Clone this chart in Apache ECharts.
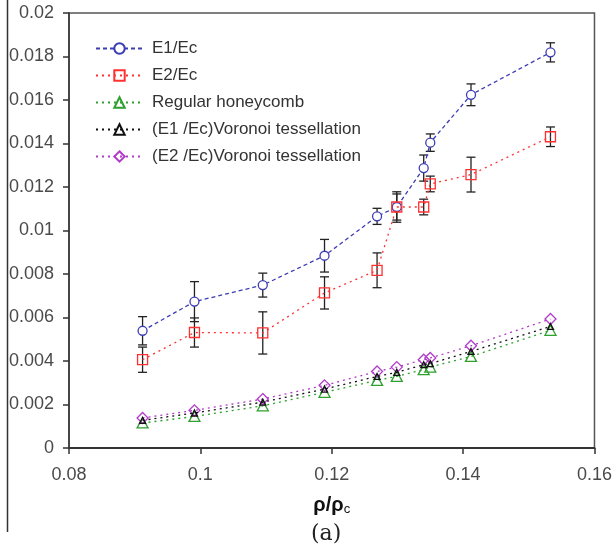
<!DOCTYPE html>
<html>
<head>
<meta charset="utf-8">
<script src="https://cdn.jsdelivr.net/npm/echarts@6/dist/echarts.min.js"></script>
<style>
html,body{margin:0;padding:0;background:#fff;}
#chart{width:615px;height:554px;}
</style>
</head>
<body>
<div id="chart"></div>
<script>
// ---- data ----
const xVals  = [0.0912, 0.0991, 0.1095, 0.1189, 0.1269, 0.1299, 0.1340, 0.1350, 0.1412, 0.1533];
const e1     = [0.00539, 0.00673, 0.00749, 0.00884, 0.01065, 0.01108, 0.01287, 0.01404, 0.01624, 0.01819];
const e1Err  = [0.00065, 0.00092, 0.00055, 0.00075, 0.00037, 0.0006, 0.0006, 0.0004, 0.0005, 0.00044];
const e2     = [0.00406, 0.00531, 0.00529, 0.00713, 0.00817, 0.01108, 0.01108, 0.01214, 0.01257, 0.01431];
const e2Err  = [0.00058, 0.00067, 0.00097, 0.00074, 0.0008, 0.0007, 0.00036, 0.00036, 0.0008, 0.00045];
const regular = [0.00115, 0.00145, 0.00194, 0.00256, 0.00311, 0.00329, 0.0036, 0.00372, 0.00421, 0.00541];
const vorE1   = [0.00127, 0.00161, 0.00211, 0.00271, 0.00329, 0.00348, 0.00383, 0.00388, 0.00444, 0.00559];
const vorE2   = [0.00138, 0.00173, 0.00225, 0.00288, 0.00352, 0.00372, 0.00406, 0.00414, 0.0047, 0.00593];
const seriesNames = ['E1/Ec', 'E2/Ec', 'Regular honeycomb', '(E1 /Ec)Voronoi tessellation', '(E2 /Ec)Voronoi tessellation'];
const xTicks = {min: 0.08, max: 0.16, interval: 0.02};
const yTicks = {min: 0, max: 0.02, interval: 0.002};

const pairs = (ys) => xVals.map((x, i) => [x, ys[i]]);
const errData = (ys, errs) => xVals.map((x, i) => [x, ys[i] - errs[i], ys[i] + errs[i]]);

const FONT = 'Liberation Sans, Arial, sans-serif';
const BLUE = '#3c3cb4', RED = '#ff3030', GREEN = '#2ea02e', BLACK = '#111111', PURPLE = '#b03cc8';

function errRender(params, api) {
  const x = api.value(0);
  const lo = api.coord([x, api.value(1)]);
  const hi = api.coord([x, api.value(2)]);
  const w = 4.5;
  const st = {stroke: '#222', lineWidth: 1.3};
  return {
    type: 'group',
    children: [
      {type: 'line', shape: {x1: lo[0], y1: lo[1], x2: hi[0], y2: hi[1]}, style: st},
      {type: 'line', shape: {x1: lo[0] - w, y1: lo[1], x2: lo[0] + w, y2: lo[1]}, style: st},
      {type: 'line', shape: {x1: hi[0] - w, y1: hi[1], x2: hi[0] + w, y2: hi[1]}, style: st}
    ]
  };
}

const chart = echarts.init(document.getElementById('chart'));
const fmt = v => String(+(+v).toFixed(4));

chart.setOption({
  animation: false,
  backgroundColor: '#fff',
  textStyle: {fontFamily: FONT},
  grid: {left: 69, right: 19, top: 13, bottom: 106, show: true, borderColor: '#555', borderWidth: 1.5},
  legend: {
    data: seriesNames,
    orient: 'vertical',
    left: 95, top: 40,
    padding: 0,
    itemWidth: 47, itemHeight: 13, itemGap: 10,
    textStyle: {fontFamily: FONT, fontSize: 17, color: '#333', padding: [0, 0, 0, 4]}
  },
  xAxis: {
    type: 'value', min: xTicks.min, max: xTicks.max, interval: xTicks.interval,
    splitLine: {show: false},
    axisLine: {lineStyle: {color: '#333', width: 2}},
    axisTick: {length: 6, lineStyle: {color: '#333', width: 1.5}},
    axisLabel: {margin: 18, fontSize: 18, color: '#4a4a4a', fontFamily: FONT, formatter: fmt},
    name: '{b|ρ/ρ}{s|c}',
    nameLocation: 'middle', nameGap: 46,
    nameTextStyle: {
      rich: {
        b: {fontFamily: FONT, fontWeight: 'bold', fontSize: 20, color: '#111', lineHeight: 22},
        s: {fontFamily: FONT, fontSize: 13, color: '#111', lineHeight: 22, padding: [8, 0, 0, 0]}
      }
    }
  },
  yAxis: {
    type: 'value', min: yTicks.min, max: yTicks.max, interval: yTicks.interval,
    splitLine: {show: false},
    axisLine: {lineStyle: {color: '#333', width: 1.5}},
    axisTick: {length: 6, lineStyle: {color: '#333', width: 1.5}},
    axisLabel: {margin: 15, fontSize: 18, color: '#4a4a4a', fontFamily: FONT, formatter: fmt}
  },
  graphic: [
    {type: 'line', shape: {x1: 7.5, y1: 0, x2: 7.5, y2: 532}, style: {stroke: '#333', lineWidth: 1.5}, z: 100},
    {type: 'text', left: 311, top: 523, style: {text: '(a)', font: '22px "DejaVu Serif", serif', fill: '#222'}}
  ],
  series: [
    {type: 'custom', name: 'errE1', renderItem: errRender, data: errData(e1, e1Err), encode: {x: 0, y: [1, 2]}, z: 1, silent: true},
    {type: 'custom', name: 'errE2', renderItem: errRender, data: errData(e2, e2Err), encode: {x: 0, y: [1, 2]}, z: 1, silent: true},
    {
      name: seriesNames[0], type: 'line', data: pairs(e1), z: 3,
      symbol: 'circle', symbolSize: 9,
      lineStyle: {color: BLUE, width: 1.3, type: [4, 3]},
      itemStyle: {color: '#fff', borderColor: BLUE, borderWidth: 1.3}
    },
    {
      name: seriesNames[1], type: 'line', data: pairs(e2), z: 4,
      symbol: 'rect', symbolSize: 10,
      lineStyle: {color: RED, width: 1.3, type: [2, 4]},
      itemStyle: {color: 'rgba(255,255,255,0)', borderColor: RED, borderWidth: 1.3}
    },
    {
      name: seriesNames[2], type: 'line', data: pairs(regular), z: 3,
      symbol: 'triangle', symbolSize: [11, 10],
      lineStyle: {color: GREEN, width: 1.3, type: [2, 4]},
      itemStyle: {color: 'rgba(255,255,255,0)', borderColor: GREEN, borderWidth: 1.3}
    },
    {
      name: seriesNames[3], type: 'line', data: pairs(vorE1), z: 5,
      symbol: 'triangle', symbolSize: [6, 6],
      lineStyle: {color: BLACK, width: 1.3, type: [2, 4]},
      itemStyle: {color: 'rgba(255,255,255,0)', borderColor: BLACK, borderWidth: 1.3}
    },
    {
      name: seriesNames[4], type: 'line', data: pairs(vorE2), z: 4,
      symbol: 'diamond', symbolSize: [11, 11],
      lineStyle: {color: PURPLE, width: 1.3, type: [2, 4]},
      itemStyle: {color: 'rgba(255,255,255,0)', borderColor: PURPLE, borderWidth: 1.3}
    }
  ]
});
</script>
</body>
</html>
